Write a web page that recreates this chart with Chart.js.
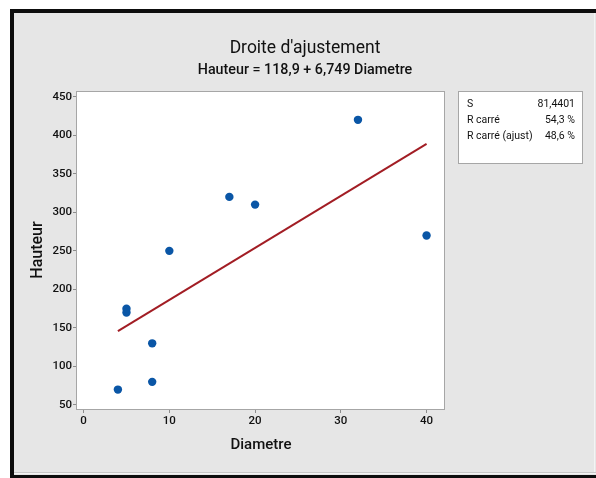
<!DOCTYPE html>
<html>
<head>
<meta charset="utf-8">
<script src="https://cdn.jsdelivr.net/npm/chart.js@4/dist/chart.umd.min.js"></script>
<style>
  html, body { margin: 0; padding: 0; background: #ffffff; }
  canvas { display: block; }
</style>
</head>
<body>
<canvas id="c" width="596" height="478"></canvas>
<script>
// Observations
const diametre = [4, 5, 5, 8, 8, 10, 17, 20, 32, 40];
const hauteur  = [70, 170, 175, 80, 130, 250, 320, 310, 420, 270];

// Fitted line: Hauteur = 118,9 + 6,749 Diametre, drawn over the observed range
const fitIntercept = 118.9;
const fitSlope = 6.749;
const fitRange = [4, 40];

// Axis ticks
const xTicks = [0, 10, 20, 30, 40];
const yTicks = [50, 100, 150, 200, 250, 300, 350, 400, 450];

// Summary statistics of the fit
const statLabels = ['S', 'R carré', 'R carré (ajust)'];
const statValues = ['81,4401', '54,3 %', '48,6 %'];

const FONT = 'Roboto, "Open Sans", sans-serif';

const pointData = diametre.map((x, i) => ({ x: x, y: hauteur[i] }));
const lineData = fitRange.map(x => ({ x: x, y: fitIntercept + fitSlope * x }));

const framePlugin = {
  id: 'frame',
  beforeDraw(chart) {
    const ctx = chart.ctx;
    const a = chart.chartArea;
    ctx.save();
    ctx.fillStyle = '#ffffff';
    ctx.fillRect(0, 0, 596, 478);
    // gray panel with heavy dark border on left, top and bottom
    ctx.fillStyle = '#e6e6e6';
    ctx.fillRect(14, 13, 582, 462);
    ctx.fillStyle = '#0d0d0d';
    ctx.fillRect(10, 9, 4, 469);
    ctx.fillRect(10, 9, 586, 4);
    ctx.fillRect(10, 475, 586, 3);
    ctx.fillStyle = '#f4f4f4';
    ctx.fillRect(14, 473, 582, 1);
    ctx.fillRect(594, 13, 1, 461);
    ctx.fillStyle = '#c8c8c8';
    ctx.fillRect(14, 472, 582, 1);
    // plot area
    ctx.fillStyle = '#ffffff';
    ctx.fillRect(a.left, a.top, a.right - a.left, a.bottom - a.top);

    // titles
    ctx.fillStyle = '#111111';
    ctx.textAlign = 'center';
    ctx.textBaseline = 'alphabetic';
    ctx.font = '17.5px ' + FONT;
    ctx.fillText("Droite d'ajustement", 305, 53);
    ctx.font = '500 14.3px ' + FONT;
    ctx.fillText('Hauteur = 118,9 + 6,749 Diametre', 305, 74);

    // statistics box
    ctx.fillStyle = '#ffffff';
    ctx.fillRect(458, 91, 124, 72);
    ctx.strokeStyle = '#a6a6a6';
    ctx.lineWidth = 1;
    ctx.strokeRect(458.5, 91.5, 124, 72);
    ctx.fillStyle = '#111111';
    ctx.font = '10.5px ' + FONT;
    ctx.textBaseline = 'middle';
    statLabels.forEach((lab, i) => {
      const y = 104 + i * 16;
      ctx.textAlign = 'left';
      ctx.fillText(lab, 467, y);
      ctx.textAlign = 'right';
      ctx.fillText(statValues[i], 575, y);
    });
    ctx.restore();
  },
  beforeDatasetsDraw(chart) {
    const ctx = chart.ctx;
    const a = chart.chartArea;
    ctx.save();
    ctx.strokeStyle = '#a6a6a6';
    ctx.lineWidth = 1;
    ctx.strokeRect(Math.round(a.left) - 0.5, Math.round(a.top) + 0.5,
                   Math.round(a.right - a.left), Math.round(a.bottom - a.top));
    ctx.restore();
  }
};

new Chart(document.getElementById('c'), {
  data: {
    datasets: [
      {
        type: 'line',
        data: lineData,
        borderColor: '#a21d24',
        borderWidth: 2,
        pointRadius: 0,
        fill: false,
        order: 2
      },
      {
        type: 'scatter',
        data: pointData,
        backgroundColor: '#0a56a6',
        borderWidth: 0,
        pointRadius: 4.2,
        order: 1
      }
    ]
  },
  options: {
    responsive: false,
    animation: false,
    devicePixelRatio: 1,
    layout: { padding: { left: 14, right: 151, top: 91, bottom: 4 } },
    plugins: {
      legend: { display: false },
      tooltip: { enabled: false },
      title: { display: false }
    },
    scales: {
      x: {
        type: 'linear',
        min: -0.77,
        max: 42.15,
        afterBuildTicks: s => { s.ticks = xTicks.map(v => ({ value: v })); },
        afterFit: s => { s.height = 65; },
        grid: { drawOnChartArea: false, drawTicks: true, tickLength: 4, tickColor: '#8c8c8c' },
        border: { display: false },
        ticks: { color: '#111111', font: { family: FONT, size: 11.5, weight: '500' }, padding: 1, maxRotation: 0 },
        title: {
          display: true, text: 'Diametre', color: '#111111',
          font: { family: FONT, size: 15, weight: '500' },
          padding: { top: 0, bottom: 20 }
        }
      },
      y: {
        type: 'linear',
        min: 44.8,
        max: 457.4,
        afterBuildTicks: s => { s.ticks = yTicks.map(v => ({ value: v })); },
        afterFit: s => { s.width = 63; },
        grid: { drawOnChartArea: false, drawTicks: true, tickLength: 4, tickColor: '#8c8c8c' },
        border: { display: false },
        ticks: { color: '#111111', font: { family: FONT, size: 11.5, weight: '500' }, padding: 1 },
        title: {
          display: true, text: 'Hauteur', color: '#111111',
          font: { family: FONT, size: 16, weight: '500' },
          padding: { top: 14, bottom: 0 }
        }
      }
    }
  },
  plugins: [framePlugin]
});
</script>
</body>
</html>
